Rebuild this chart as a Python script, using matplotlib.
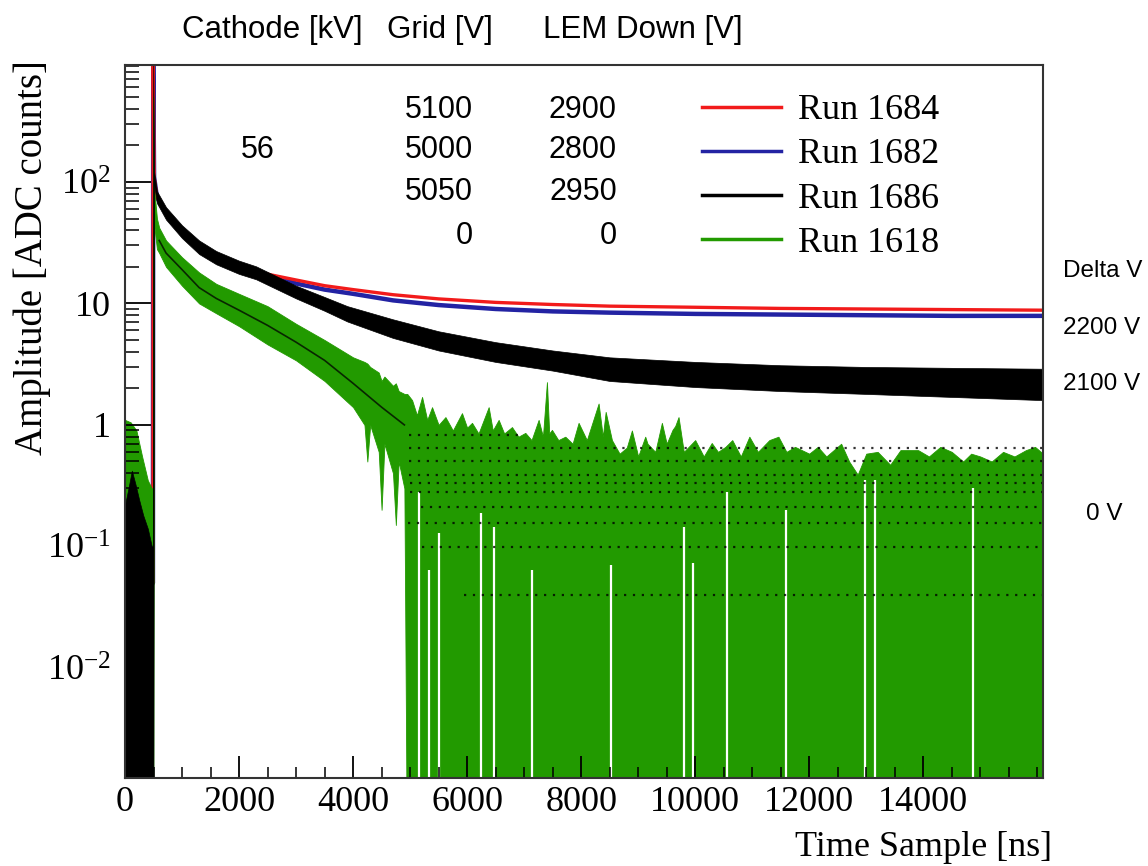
import numpy as np
import matplotlib.pyplot as plt
from matplotlib.lines import Line2D
from matplotlib.ticker import FixedLocator, FixedFormatter, LogLocator, NullFormatter, MultipleLocator

plt.rcParams['font.family'] = 'Liberation Serif'
plt.rcParams['mathtext.fontset'] = 'custom'
plt.rcParams['mathtext.rm'] = 'Liberation Serif'
plt.rcParams['mathtext.it'] = 'Liberation Serif:italic'

W, H = 1148, 866

# Run 1684 (red) and Run 1682 (blue): mean amplitude
red_t = [0, 60, 120, 200, 300, 400, 470, 490, 495, 510, 560, 720, 1000, 1300, 1600, 2000, 2300,
         3000, 3500, 4000, 4700, 5500, 6500, 7500, 8500, 10000, 11500, 13000, 14500, 16100]
red_y = [0.1, 0.15, 0.45, 0.15, 0.1, 0.07, 0.05, 0.05, 900, 110, 75, 55, 39, 29, 24, 20, 18.2,
         15.6, 14.0, 13.0, 11.8, 10.9, 10.2, 9.8, 9.5, 9.3, 9.1, 9.0, 8.9, 8.8]
blue_t = red_t
blue_y = [0.1, 0.15, 0.4, 0.15, 0.1, 0.07, 0.05, 0.05, 900, 110, 75, 55, 39, 29, 24, 20, 18.0,
          14.6, 13.0, 12.0, 10.6, 9.7, 9.0, 8.6, 8.4, 8.2, 8.1, 8.0, 7.9, 7.9]

# Run 1686 (black): error band
black_t = [0, 60, 120, 180, 250, 320, 400, 470, 490, 495, 510, 560, 720, 1000, 1300, 1600, 2000, 2300,
           3000, 3500, 3900, 4700, 5500, 6500, 7500, 8500, 10000, 11500, 13000, 14500, 16100]
black_hi = [0.22, 0.3, 0.42, 0.33, 0.24, 0.18, 0.14, 0.1, 0.1, 1000, 122, 84, 62, 44, 33, 27, 22.5, 20.2,
            14.0, 11.3, 9.5, 7.4, 5.9, 4.8, 4.1, 3.6, 3.3, 3.1, 3.0, 2.95, 2.9]
black_lo = [1e-4, 1e-4, 1e-4, 1e-4, 1e-4, 1e-4, 1e-4, 1e-4, 1e-4, 1e-4, 96, 67, 49, 34.5, 25.5, 21, 17.5, 15.8,
            11.0, 8.7, 7.1, 5.2, 4.1, 3.3, 2.8, 2.3, 2.05, 1.9, 1.8, 1.7, 1.6]

# Run 1618 (green): error band and black centre line
green_t = [0, 100, 200, 300, 400, 470, 490, 495, 510, 560, 600, 720, 1000, 1300, 1600, 2000, 2500,
           3000, 3500, 4000, 4200, 4250, 4300, 4450, 4500, 4550, 4700, 4750, 4800, 4900, 4950,
           5035, 5120, 5210, 5300, 5385, 5500, 5620, 5750, 5910, 6000, 6086, 6200, 6378, 6450, 6553,
           6650, 6787, 6900, 7021, 7130, 7254, 7330, 7400, 7440, 7488, 7600, 7722, 7850, 7955, 8100,
           8306, 8380, 8430, 8540, 8674, 8800, 8890, 9000, 9124, 9164, 9300, 9416, 9500, 9602, 9650,
           9708, 9800, 10000, 10150, 10290, 10400, 10530, 10650, 10800, 10950, 11100, 11300, 11460,
           11600, 11750, 12000, 12150, 12300, 12560, 12700, 12850, 13000, 13200, 13420, 13600, 13910,
           14100, 14300, 14500, 14700, 14840, 15000, 15200, 15400, 15600, 15800, 15960, 16100]
green_hi = [1.1, 1.05, 0.9, 0.55, 0.35, 0.3, 0.3, 500, 90, 50, 42, 33, 24, 18, 14.5, 12, 9.5,
            6.8, 5.0, 3.6, 3.3, 3.2, 3.0, 2.7, 2.3, 2.5, 2.1, 2.2, 1.9, 1.8, 1.8,
            1.6, 1.2, 1.7, 1.1, 1.4, 1.0, 1.16, 0.9, 1.25, 0.95, 1.04, 0.85, 1.4, 0.9, 1.1,
            0.85, 0.96, 0.8, 0.86, 0.75, 1.1, 0.8, 2.25, 0.85, 0.91, 0.75, 0.8, 0.7, 1.04, 0.75,
            1.5, 0.8, 1.28, 0.75, 0.58, 0.65, 0.9, 0.55, 0.8, 0.7, 0.6, 1.04, 0.7, 0.91, 0.98,
            1.16, 0.6, 0.75, 0.55, 0.71, 0.6, 0.66, 0.75, 0.55, 0.8, 0.6, 0.75, 0.8,
            0.6, 0.66, 0.58, 0.66, 0.55, 0.7, 0.5, 0.39, 0.58, 0.6, 0.47, 0.62, 0.62,
            0.55, 0.66, 0.6, 0.5, 0.58, 0.55, 0.5, 0.6, 0.55, 0.62, 0.66, 0.58]
green_lo = [1e-4] * 7 + [1e-4, 45, 28, 26, 20, 14, 10, 8.3, 6.5, 4.6,
            3.4, 2.3, 1.4, 1.0, 0.5, 1.0, 0.6, 0.2, 0.7, 0.4, 0.15, 0.5, 0.3, 1e-4] + \
           [1e-4] * (len(green_t) - 31)
green_mid_t = [600, 720, 1000, 1300, 1600, 2000, 2500, 3000, 3500, 4000, 4500, 4900]
green_mid_y = [33, 26, 19, 13.5, 11, 8.8, 6.6, 4.8, 3.4, 2.2, 1.4, 1.0]

# quantised ADC levels of Run 1618 (black dots) in the tail
dot_levels = [0.83, 0.65, 0.50, 0.39, 0.33, 0.28, 0.21, 0.156, 0.099, 0.040]
dot_start = [4980, 4980, 4980, 4980, 5000, 5000, 5200, 4960, 5210, 5940]
dot_end = [7000, 16100, 16100, 16100, 16100, 16100, 16100, 16100, 16100, 16100]

# white gaps in the green tail (time, top of gap)
gap_t = [5150, 5330, 5500, 6240, 6470, 7130, 8520, 9800, 9970, 10550, 11600, 12985, 13160, 14880]
gap_top = [0.28, 0.064, 0.13, 0.19, 0.145, 0.064, 0.07, 0.145, 0.073, 0.28, 0.2, 0.35, 0.35, 0.3]

runs = ['Run 1684', 'Run 1682', 'Run 1686', 'Run 1618']
colors = ['#f21b1b', '#2323a3', 'black', '#229a00']
grid_v = ['5100', '5000', '5050', '0']
lem_v = ['2900', '2800', '2950', '0']
cathode_kv = '56'

ymin, ymax = 1.24e-3, 918

fig = plt.figure(figsize=(W / 100, H / 100), dpi=100)
ax = fig.add_axes([125 / W, 1 - 778 / H, (1043 - 125) / W, (778 - 65) / H])
ax.set_yscale('log')

# lines behind the error bands, as in the original drawing order
ax.plot(blue_t, blue_y, color=colors[1], lw=3.2, zorder=0.8)
ax.plot(red_t, red_y, color=colors[0], lw=2.4, zorder=0.9)
ax.fill_between(green_t, green_lo, green_hi, color=colors[3], lw=0.6, edgecolor=colors[3], zorder=1)
ax.vlines(gap_t, 1e-4, gap_top, color='white', lw=1.6, zorder=1.1)
ax.fill_between(black_t, black_lo, black_hi, color='black', lw=0.5, zorder=1.2)
ax.plot(green_mid_t, green_mid_y, color='black', lw=1.2, alpha=0.75, zorder=2)
ax.hlines(dot_levels, dot_start, dot_end, color='black', lw=1.6, linestyles=(0, (1, 3)), alpha=0.8,
          zorder=2)

ax.set_xlim(0, 16100)
ax.set_ylim(ymin, ymax)

ax.yaxis.set_major_locator(FixedLocator([0.01, 0.1, 1, 10, 100]))
ax.yaxis.set_major_formatter(FixedFormatter([r'$10^{-2}$', r'$10^{-1}$', '1', '10', r'$10^{2}$']))
ax.yaxis.set_minor_locator(LogLocator(base=10, subs=np.arange(2, 10), numticks=20))
ax.yaxis.set_minor_formatter(NullFormatter())
ax.xaxis.set_minor_locator(MultipleLocator(500))
ax.set_xticks([0, 2000, 4000, 6000, 8000, 10000, 12000, 14000])
ax.tick_params(axis='y', which='major', direction='in', length=19, width=1.3, labelsize=26, pad=10,
               right=False)
ax.tick_params(axis='y', which='minor', direction='in', length=10, width=1.1, right=False)
ax.tick_params(axis='x', which='major', direction='in', length=16, width=1.3, labelsize=26, pad=6,
               top=False)
ax.tick_params(axis='x', which='minor', direction='in', length=8, width=1.1, top=False)
for s in ax.spines.values():
    s.set_linewidth(1.5)
    s.set_color('#333333')

fig.text(32 / W, 1 - 60 / H, 'Amplitude [ADC counts]', rotation=90, ha='center', va='top', fontsize=28)
fig.text(1052 / W, 1 - 847 / H, 'Time Sample [ns]', ha='right', va='center', fontsize=26)

handles = [Line2D([], [], color=c, lw=2.5) for c in colors]
fig.legend(handles, runs, loc='upper left', bbox_to_anchor=(702 / W, 1 - 94 / H), frameon=False,
           fontsize=26, handlelength=2.2, handletextpad=0.45, labelspacing=0.3, borderpad=0,
           borderaxespad=0)

sans = 'Liberation Sans'
fig.text(182 / W, 1 - 30 / H, 'Cathode [kV]', family=sans, fontsize=22.5, va='center')
fig.text(387 / W, 1 - 30 / H, 'Grid [V]', family=sans, fontsize=22.5, va='center')
fig.text(543 / W, 1 - 30 / H, 'LEM Down [V]', family=sans, fontsize=22.5, va='center')
fig.text(258 / W, 1 - 150 / H, cathode_kv, family=sans, fontsize=22, ha='center', va='center')
row_y = [110, 150, 192, 236]
for ry, g, l in zip(row_y, grid_v, lem_v):
    fig.text(473 / W, 1 - ry / H, g, family=sans, fontsize=22, ha='right', va='center')
    fig.text(617 / W, 1 - ry / H, l, family=sans, fontsize=22, ha='right', va='center')

fig.text(1063 / W, 1 - 271 / H, 'Delta V', family=sans, fontsize=17.5, va='center')
fig.text(1063 / W, 1 - 328 / H, '2200 V', family=sans, fontsize=17.5, va='center')
fig.text(1063 / W, 1 - 384 / H, '2100 V', family=sans, fontsize=17.5, va='center')
fig.text(1086 / W, 1 - 514 / H, '0 V', family=sans, fontsize=17.5, va='center')

fig.savefig('out.png', dpi=100)
